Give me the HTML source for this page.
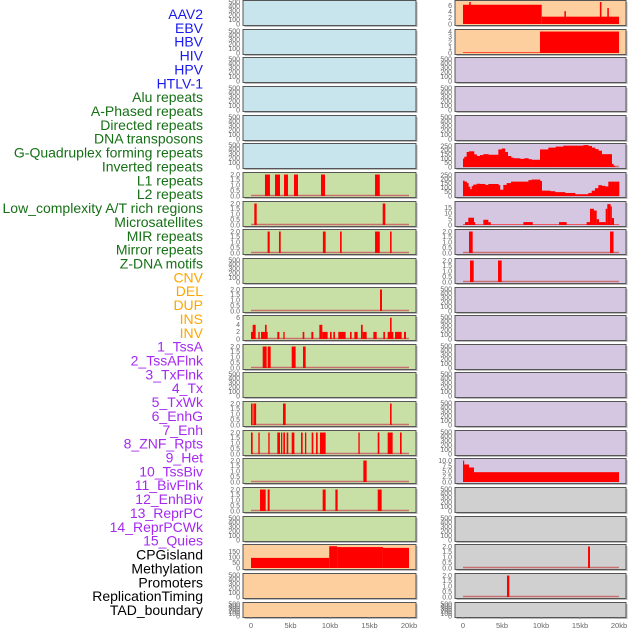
<!DOCTYPE html>
<html><head><meta charset="utf-8"><style>
body{margin:0;background:#fff;width:630px;height:630px;overflow:hidden}
svg{display:block;font-family:"Liberation Sans",sans-serif}
</style></head><body>
<svg id="chart" width="630" height="630" viewBox="0 0 630 630" xmlns="http://www.w3.org/2000/svg"></svg>
<script>
// ---- data (kb positions, values) ----
const trackLabels = ["AAV2","EBV","HBV","HIV","HPV","HTLV-1","Alu repeats","A-Phased repeats","Directed repeats","DNA transposons","G-Quadruplex forming repeats","Inverted repeats","L1 repeats","L2 repeats","Low_complexity A/T rich regions","Microsatellites","MIR repeats","Mirror repeats","Z-DNA motifs","CNV","DEL","DUP","INS","INV","1_TssA","2_TssAFlnk","3_TxFlnk","4_Tx","5_TxWk","6_EnhG","7_Enh","8_ZNF_Rpts","9_Het","10_TssBiv","11_BivFlnk","12_EnhBiv","13_ReprPC","14_ReprPCWk","15_Quies","CPGisland","Methylation","Promoters","ReplicationTiming","TAD_boundary"];
const trackGroups = ["virus","virus","virus","virus","virus","virus","rep","rep","rep","rep","rep","rep","rep","rep","rep","rep","rep","rep","rep","cnv","cnv","cnv","cnv","cnv","hmm","hmm","hmm","hmm","hmm","hmm","hmm","hmm","hmm","hmm","hmm","hmm","hmm","hmm","hmm","oth","oth","oth","oth","oth"];
const xTickLabels = ["0","5kb","10kb","15kb","20kb"];
const xTickValues = [0,5,10,15,20];

// segments: [startKb, endKb, value]
const aluSegs = [[1.77,2.4,2],[3.04,3.67,2],[4.18,4.68,2],[5.44,5.95,2],[8.86,9.37,2],[15.7,16.3,2]];
const aPhasedSegs = [[0.42,0.72,2],[16.67,17.0,2]];
const directedSegs = [[2.1,2.37,2],[3.54,3.76,2],[9.1,9.45,2],[11.27,11.48,2],[15.7,16.3,2],[17.6,17.8,2]];
const gQuadSegs = [[16.33,16.58,2]];
const invertedSegs = [[0,0.51,2],[0.21,0.59,4],[0.93,1.1,2],[1.27,1.65,2],[1.65,2.11,2],[1.77,1.98,4],[3.33,3.59,2],[4.09,4.26,2],[6.54,6.75,2],[7.64,7.89,2],[8.65,9.03,4],[9.03,9.7,2],[10.0,10.21,2],[10.42,10.63,2],[11.05,11.98,2],[12.53,12.74,2],[13.08,13.5,2],[13.92,14.14,4],[14.14,14.64,2],[15.49,15.91,2],[16.75,16.96,2],[17.3,18.02,2],[17.6,17.8,6],[18.23,19.07,2],[19.37,19.62,2]];
const l1Segs = [[1.48,1.98,2],[2.11,2.49,2],[5.15,5.65,2],[6.58,6.92,2]];
const lowCompSegs = [[0,0.21,2],[0.3,0.5,2],[0.5,0.59,2],[4.05,4.39,2],[17.6,17.8,2]];
const microSegs = [[0,0.21,2],[0.93,1.1,2],[2.19,2.36,2],[3.33,3.67,2],[3.8,3.96,2],[4.09,4.3,2],[4.51,4.72,2],[5.15,5.49,2],[6.33,6.54,2],[6.83,7.0,2],[7.68,7.89,2],[8.23,8.44,2],[8.73,9.45,2],[13.59,13.76,2],[16.04,16.25,2],[17.3,17.93,2],[18.86,19.07,2]];
const mirSegs = [[14.22,14.64,2]];
const mirrorSegs = [[1.14,1.86,2],[2.11,2.36,2],[9.07,9.45,2],[10.68,10.97,2],[16.04,16.54,2]];
const cnvSegs = [[0,9.9,92],[9.9,10.9,198],[10.9,16.7,190],[16.7,20,183]];
const insSegs = [[0,10.09,6.3],[10.09,20,2.4],[0.8,1.0,8],[13.0,13.2,4.2],[17.55,17.75,8],[18.5,18.7,5.2]];
const invSegs = [[0,9.87,0.12],[9.87,20,4]];
const txStarts = [0,0.17,0.47,0.77,1.41,1.75,2.18,2.61,3.25,4.53,4.96,5.38,5.73,6.15,6.45,7.31,7.86,8.38,8.8,9.87,10.94,11.88,12.86,15.43,16.07,16.5,16.92,17.35,17.78,19.06,19.27];
const txValues = [100,123,179,187,150,131,142,153,146,209,220,179,131,112,104,97,104,93,86,209,231,243,254,261,250,231,213,194,153,37,15];
const txEnd = 19.49;
const txWkStarts = [0,0.17,0.47,0.68,0.9,1.11,1.32,1.75,2.18,2.82,3.25,4.53,4.74,5.17,5.6,6.15,8.38,8.8,9.87,10.09,11.16,11.8,13.08,14.36,16.07,16.5,16.92,17.35,17.78,18.21,18.63];
const txWkValues = [182,171,154,111,82,118,136,146,143,132,143,129,75,132,154,171,189,196,179,64,57,46,36,21,36,64,93,129,121,114,171];
const txWkEnd = 20.0;
const enhGSegs = [[0,20,0.5],[0.26,0.68,2.5],[0.68,1.41,6.3],[1.41,1.54,2.5],[2.61,3.25,4.5],[3.25,3.55,2.5],[7.74,8.94,2.5],[12.31,13.29,2.5],[15.85,16.28,2.5],[16.28,16.79,14],[16.79,17.14,12.5],[17.14,17.44,5],[17.44,18.29,2.5],[18.29,18.5,14],[18.5,18.93,18],[18.93,19.06,16],[19.06,19.36,6]];
const enhSegs = [[0.77,1.24,2],[18.85,19.3,2]];
const znfSegs = [[0.9,1.37,2],[4.49,4.96,2]];
const quiesSegs = [[0,0.13,10],[0.13,0.77,8.2],[0.77,1.41,6.8],[1.41,20,4.6]];
const promoterSegs = [[16.03,16.28,2]];
const replSegs = [[5.64,5.94,2]];

const ticks500 = [0,100,200,300,400,500];
const ticks2 = [0,0.5,1,1.5,2];

// ---- layout ----
const svg = document.getElementById('chart');
const NS = 'http://www.w3.org/2000/svg';
function mk(tag, attrs, parent){const e=document.createElementNS(NS,tag);for(const k in attrs)e.setAttribute(k,attrs[k]);(parent||svg).appendChild(e);return e;}
const groupColor = {virus:'#1a1aee',rep:'#167016',cnv:'#ffa500',hmm:'#a52af0',oth:'#000'};
const groupFill = {virus:'#c8e4ec',rep:'#c8e0a6',cnv:'#fecf9e',hmm:'#d5c6e2',oth:'#d0d0d0'};

trackLabels.forEach((t,i)=>{
  const e = mk('text',{x:203,y:19+i*13.86,'text-anchor':'end','font-size':'14',fill:groupColor[trackGroups[i]]});
  e.textContent=t;
  
  
});

const cols = [{x:243,w:173,x0:251,x1:409},{x:455,w:171,x0:463,x1:619}];

const panelSpecs = [
 null,null,null,null,null,null,
 {segs:aluSegs},{segs:aPhasedSegs},{segs:directedSegs},null,{segs:gQuadSegs},
 {segs:invertedSegs,max:6.2,ticks:[0,2,4,6]},{segs:l1Segs},null,{segs:lowCompSegs},{segs:microSegs},{segs:mirSegs},{segs:mirrorSegs},null,
 {segs:cnvSegs,max:200,ticks:[0,50,100,150],nobase:true},null,null,
 {segs:insSegs,max:7.2,ticks:[0,2,4,6],nobase:true},{segs:invSegs,max:4.1,ticks:[0,1,2,3,4],nobase:true},
 null,null,null,
 {steps:[txStarts,txValues,txEnd],max:262,ticks:[0,50,100,150,200,250]},
 {steps:[txWkStarts,txWkValues,txWkEnd],max:262,ticks:[0,50,100,150,200,250]},
 {segs:enhGSegs,max:19,ticks:[0,5,10,15],nobase:true},
 {segs:enhSegs},{segs:znfSegs},null,null,null,null,null,null,
 {segs:quiesSegs,max:10.3,ticks:[0,2.5,5,7.5,10],nobase:true},
 null,null,{segs:promoterSegs},{segs:replSegs},null
];

trackLabels.forEach((name,i)=>{
  const col = cols[i<22?0:1];
  const r = i%22;
  const top = Math.round(r*28.65)+0.5;
  const h = r===21?15:25;
  const spec = panelSpecs[i];
  const g = mk('g',{});
  
  
  mk('rect',{x:col.x+1.5,y:top+1.5,width:col.w,height:h,fill:'#bbb'},g);
  mk('rect',{x:col.x,y:top,width:col.w,height:h,fill:groupFill[trackGroups[i]],stroke:'#555','stroke-width':1},g);
  const yMax = spec&&spec.max?spec.max:(spec?2.05:500);
  const ticks = spec&&spec.ticks?spec.ticks:(spec?ticks2:ticks500);
  const yb = top+h-1.5, yt = top+1.5;
  const ys = v=>yb-(Math.min(v,yMax)/yMax)*(yb-yt);
  const xs = kb=>col.x0+kb/20*(col.x1-col.x0);
  ticks.forEach(t=>{
    const tl = mk('text',{x:col.x-3,y:ys(t)+2.3,'text-anchor':'end','font-size':'7',fill:'#666'},g);
    tl.textContent = ticks===ticks500||(spec&&spec.max&&ticks.every(v=>v%1===0))?String(t):t.toFixed(1);
    
    
  });
  if(!spec) return;
  if(!spec.nobase){
    const bl = mk('line',{x1:xs(0),x2:xs(20),y1:yb-0.5,y2:yb-0.5,stroke:'#c87070','stroke-width':1.5},g);
    
    
  }
  if(spec.segs){
    spec.segs.forEach(s=>{
      const b = mk('rect',{x:xs(s[0]),y:ys(s[2]),width:Math.max(1.2,xs(s[1])-xs(s[0])),height:yb-ys(s[2]),fill:'#ff0000'},g);
      
      
    });
  }
  if(spec.steps){
    const [st,vals,end]=spec.steps;
    st.forEach((s,k)=>{
      const e2 = k<st.length-1?st[k+1]:end;
      const b = mk('rect',{x:xs(s),y:ys(vals[k]),width:xs(e2)-xs(s)+0.3,height:yb-ys(vals[k]),fill:'#ff0000'},g);
      
      
    });
  }
});

cols.forEach(col=>{
  xTickValues.forEach((v,k)=>{
    const x = col.x0+v/20*(col.x1-col.x0);
    const tm = mk('line',{x1:x,x2:x,y1:617,y2:619,stroke:'#888','stroke-width':0.8});
    
    
    const tl = mk('text',{x:x,y:628,'text-anchor':'middle','font-size':'7.5',fill:'#666'});
    tl.textContent = xTickLabels[k];
    
    
  });
});
</script>
</body></html>
